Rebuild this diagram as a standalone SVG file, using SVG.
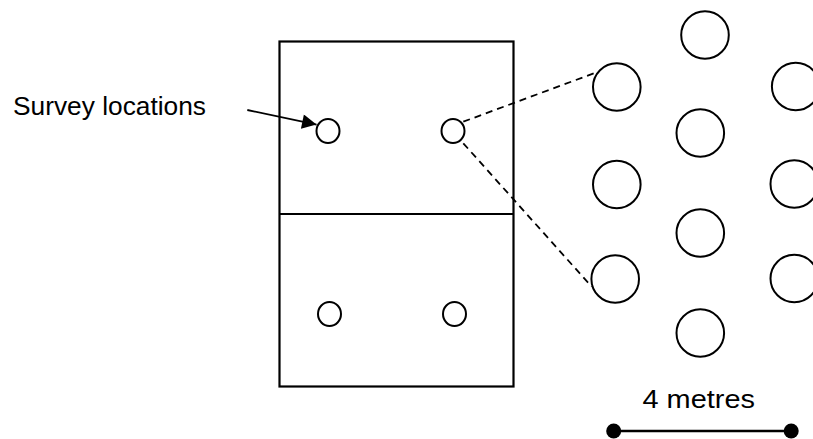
<svg xmlns="http://www.w3.org/2000/svg" width="813" height="439" viewBox="0 0 813 439">
<defs>
<style>
.ln{fill:none;stroke:#000;stroke-width:2.2}
.c{fill:none;stroke:#000;stroke-width:2}
.d{fill:none;stroke:#000;stroke-width:1.8;stroke-dasharray:7 5}
.t{font-family:"Liberation Sans",Arial,sans-serif;font-size:25px;fill:#000}
</style>
<marker id="ah" viewBox="0 0 10 10" refX="10" refY="5" markerWidth="9" markerHeight="8" markerUnits="strokeWidth" orient="auto">
<path d="M0,0 L10,5 L0,10 z" fill="#000"/>
</marker>
</defs>
<rect width="813" height="439" fill="#fff"/>
<g id="field">
<rect class="ln" x="279.5" y="41.5" width="234" height="345"/>
<line class="ln" x1="279.5" y1="214" x2="513.5" y2="214"/>
</g>
<g id="survey-locations">
<ellipse class="c" cx="328" cy="131" rx="11.5" ry="12"/>
<ellipse class="c" cx="453" cy="131" rx="11.5" ry="12"/>
<ellipse class="c" cx="329.5" cy="314" rx="11.5" ry="12"/>
<ellipse class="c" cx="454.5" cy="314" rx="11.5" ry="12"/>
</g>
<g id="label">
<text class="t" x="13" y="114.5" textLength="193" lengthAdjust="spacingAndGlyphs">Survey locations</text>
</g>
<g id="pattern">
<circle class="c" cx="705" cy="35" r="23.8"/>
<circle class="c" cx="616.8" cy="87" r="23.8"/>
<circle class="c" cx="795.7" cy="86.5" r="23.8"/>
<circle class="c" cx="700.3" cy="133" r="23.8"/>
<circle class="c" cx="616.8" cy="184.5" r="23.8"/>
<circle class="c" cx="794.3" cy="184" r="23.8"/>
<circle class="c" cx="700.3" cy="233" r="23.8"/>
<circle class="c" cx="615.2" cy="279" r="23.8"/>
<circle class="c" cx="794.3" cy="278.5" r="23.8"/>
<circle class="c" cx="700.3" cy="333" r="23.8"/>
</g>
<g id="scale">
<text class="t" x="642.5" y="407.5" textLength="112.5" lengthAdjust="spacingAndGlyphs">4 metres</text>
<line x1="613.7" y1="431" x2="791.2" y2="431" stroke="#000" stroke-width="2.4"/>
<circle cx="613.7" cy="431" r="7.5" fill="#000"/>
<circle cx="791.2" cy="431" r="7.5" fill="#000"/>
</g>
<g id="connectors">
<line x1="247.3" y1="110" x2="316.5" y2="124.6" stroke="#000" stroke-width="1.8" marker-end="url(#ah)"/>
<line class="d" x1="463.3" y1="121.7" x2="598.3" y2="71.7"/>
<line class="d" x1="463.3" y1="143.3" x2="591.7" y2="286.7"/>
</g>
</svg>
